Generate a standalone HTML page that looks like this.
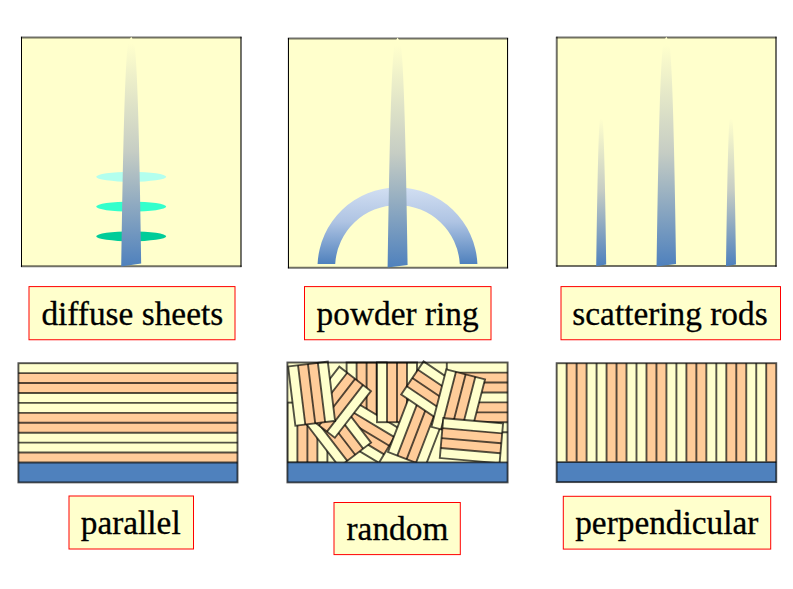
<!DOCTYPE html>
<html><head><meta charset="utf-8"><style>
html,body{margin:0;padding:0;background:#fff;width:793px;height:589px;overflow:hidden}
svg{display:block}
text{font-family:"Liberation Serif",serif}
</style></head><body>
<svg width="793" height="589" viewBox="0 0 793 589">
<defs><linearGradient id="g1" gradientUnits="userSpaceOnUse" x1="0" y1="37" x2="0" y2="266"><stop offset="0.03" stop-color="#FFFFCC"/><stop offset="0.5" stop-color="#C6CDC4"/><stop offset="1" stop-color="#4F81BD"/></linearGradient><linearGradient id="g2" gradientUnits="userSpaceOnUse" x1="0" y1="39" x2="0" y2="267.5"><stop offset="0.03" stop-color="#FFFFCC"/><stop offset="0.5" stop-color="#C6CDC4"/><stop offset="1" stop-color="#4F81BD"/></linearGradient><linearGradient id="g3" gradientUnits="userSpaceOnUse" x1="0" y1="38" x2="0" y2="266"><stop offset="0.03" stop-color="#FFFFCC"/><stop offset="0.5" stop-color="#C6CDC4"/><stop offset="1" stop-color="#4F81BD"/></linearGradient><linearGradient id="g3s" gradientUnits="userSpaceOnUse" x1="0" y1="114" x2="0" y2="266"><stop offset="0.03" stop-color="#FFFFCC"/><stop offset="0.5" stop-color="#C6CDC4"/><stop offset="1" stop-color="#4F81BD"/></linearGradient><linearGradient id="ga" gradientUnits="userSpaceOnUse" x1="0" y1="187" x2="0" y2="264"><stop offset="0" stop-color="#D2DFF2"/><stop offset="0.45" stop-color="#AFC4E3"/><stop offset="1" stop-color="#4F81BD"/></linearGradient><clipPath id="crand"><rect x="287.4" y="358" width="220.2" height="104.5"/></clipPath></defs>
<rect x="21.5" y="37.4" width="219.47" height="228.95" fill="#FFFFCC"/><line x1="21.5" y1="36.8" x2="21.5" y2="266.95000000000005" stroke="#000" stroke-width="1.05"/><line x1="20.9" y1="37.4" x2="241.57" y2="37.4" stroke="#000" stroke-opacity="0.56" stroke-width="2.0"/><line x1="240.97" y1="36.8" x2="240.97" y2="266.95000000000005" stroke="#000" stroke-opacity="0.56" stroke-width="2.0"/><line x1="20.9" y1="266.35" x2="241.57" y2="266.35" stroke="#000" stroke-opacity="0.56" stroke-width="2.0"/>
<rect x="288.45" y="38.5" width="219.10" height="229.18" fill="#FFFFCC"/><line x1="288.45" y1="37.9" x2="288.45" y2="268.28000000000003" stroke="#000" stroke-width="1.05"/><line x1="287.84999999999997" y1="38.5" x2="508.15000000000003" y2="38.5" stroke="#000" stroke-opacity="0.56" stroke-width="2.0"/><line x1="507.55" y1="37.9" x2="507.55" y2="268.28000000000003" stroke="#000" stroke-width="1.05"/><line x1="287.84999999999997" y1="267.68" x2="508.15000000000003" y2="267.68" stroke="#000" stroke-opacity="0.56" stroke-width="2.0"/>
<rect x="556.75" y="37.4" width="219.25" height="228.72" fill="#FFFFCC"/><line x1="556.75" y1="36.8" x2="556.75" y2="266.72" stroke="#000" stroke-opacity="0.56" stroke-width="2.0"/><line x1="556.15" y1="37.4" x2="776.6" y2="37.4" stroke="#000" stroke-opacity="0.56" stroke-width="2.0"/><line x1="776.0" y1="36.8" x2="776.0" y2="266.72" stroke="#000" stroke-opacity="0.56" stroke-width="2.0"/><line x1="556.15" y1="266.12" x2="776.6" y2="266.12" stroke="#000" stroke-opacity="0.56" stroke-width="2.0"/>
<ellipse cx="131.2" cy="176.8" rx="35" ry="5" fill="#B3FFEE"/>
<ellipse cx="131.2" cy="206.6" rx="35" ry="5" fill="#33FFCC"/>
<ellipse cx="131.2" cy="236.3" rx="35" ry="5" fill="#00CC99"/>
<path d="M131.20,36.70 L128.41,41.49 L127.70,46.28 L127.19,51.07 L126.80,55.86 L126.46,60.65 L126.17,65.44 L125.90,70.23 L125.66,75.02 L125.44,79.81 L125.24,84.60 L125.05,89.39 L124.87,94.18 L124.70,98.96 L124.54,103.75 L124.39,108.54 L124.24,113.33 L124.10,118.12 L123.97,122.91 L123.83,127.70 L123.71,132.49 L123.59,137.28 L123.47,142.07 L123.36,146.86 L123.24,151.65 L123.14,156.44 L123.03,161.23 L122.93,166.02 L122.83,170.81 L122.73,175.60 L122.64,180.39 L122.54,185.18 L122.45,189.97 L122.36,194.76 L122.28,199.55 L122.19,204.34 L122.11,209.12 L122.02,213.91 L121.94,218.70 L121.86,223.49 L121.78,228.28 L121.71,233.07 L121.63,237.86 L121.56,242.65 L121.48,247.44 L121.41,252.23 L121.34,257.02 L121.27,261.81 L121.20,266.60 L141.20,263.50 L141.13,261.81 L141.06,257.02 L140.99,252.23 L140.92,247.44 L140.84,242.65 L140.77,237.86 L140.69,233.07 L140.62,228.28 L140.54,223.49 L140.46,218.70 L140.38,213.91 L140.29,209.12 L140.21,204.34 L140.12,199.55 L140.04,194.76 L139.95,189.97 L139.86,185.18 L139.76,180.39 L139.67,175.60 L139.57,170.81 L139.47,166.02 L139.37,161.23 L139.26,156.44 L139.16,151.65 L139.04,146.86 L138.93,142.07 L138.81,137.28 L138.69,132.49 L138.57,127.70 L138.43,122.91 L138.30,118.12 L138.16,113.33 L138.01,108.54 L137.86,103.75 L137.70,98.96 L137.53,94.18 L137.35,89.39 L137.16,84.60 L136.96,79.81 L136.74,75.02 L136.50,70.23 L136.23,65.44 L135.94,60.65 L135.60,55.86 L135.21,51.07 L134.70,46.28 L133.99,41.49 L131.20,36.70Z" fill="url(#g1)"/>
<path d="M317.58,264 A80,80 0 0 1 477.42,264 L459.80,264 A62.4,62.4 0 0 0 335.20,264 Z" fill="url(#ga)"/>
<path d="M397.60,37.60 L394.81,42.39 L394.10,47.18 L393.59,51.98 L393.20,56.77 L392.86,61.56 L392.57,66.35 L392.30,71.14 L392.06,75.93 L391.84,80.73 L391.64,85.52 L391.45,90.31 L391.27,95.10 L391.10,99.89 L390.94,104.68 L390.79,109.48 L390.64,114.27 L390.50,119.06 L390.37,123.85 L390.23,128.64 L390.11,133.43 L389.99,138.23 L389.87,143.02 L389.76,147.81 L389.64,152.60 L389.54,157.39 L389.43,162.18 L389.33,166.98 L389.23,171.77 L389.13,176.56 L389.04,181.35 L388.94,186.14 L388.85,190.93 L388.76,195.73 L388.68,200.52 L388.59,205.31 L388.51,210.10 L388.42,214.89 L388.34,219.68 L388.26,224.48 L388.18,229.27 L388.11,234.06 L388.03,238.85 L387.96,243.64 L387.88,248.43 L387.81,253.23 L387.74,258.02 L387.67,262.81 L387.60,267.60 L407.60,265.00 L407.53,262.81 L407.46,258.02 L407.39,253.23 L407.32,248.43 L407.24,243.64 L407.17,238.85 L407.09,234.06 L407.02,229.27 L406.94,224.48 L406.86,219.68 L406.78,214.89 L406.69,210.10 L406.61,205.31 L406.52,200.52 L406.44,195.73 L406.35,190.93 L406.26,186.14 L406.16,181.35 L406.07,176.56 L405.97,171.77 L405.87,166.98 L405.77,162.18 L405.66,157.39 L405.56,152.60 L405.44,147.81 L405.33,143.02 L405.21,138.23 L405.09,133.43 L404.97,128.64 L404.83,123.85 L404.70,119.06 L404.56,114.27 L404.41,109.48 L404.26,104.68 L404.10,99.89 L403.93,95.10 L403.75,90.31 L403.56,85.52 L403.36,80.73 L403.14,75.93 L402.90,71.14 L402.63,66.35 L402.34,61.56 L402.00,56.77 L401.61,51.98 L401.10,47.18 L400.39,42.39 L397.60,37.60Z" fill="url(#g2)"/>
<path d="M601.20,112.00 L600.14,115.21 L599.80,118.42 L599.55,121.64 L599.35,124.85 L599.18,128.06 L599.02,131.28 L598.89,134.49 L598.76,137.70 L598.64,140.91 L598.53,144.12 L598.43,147.34 L598.33,150.55 L598.23,153.76 L598.15,156.97 L598.06,160.19 L597.98,163.40 L597.90,166.61 L597.82,169.82 L597.75,173.04 L597.68,176.25 L597.61,179.46 L597.54,182.68 L597.47,185.89 L597.41,189.10 L597.35,192.31 L597.29,195.52 L597.23,198.74 L597.17,201.95 L597.11,205.16 L597.06,208.38 L597.00,211.59 L596.95,214.80 L596.90,218.01 L596.84,221.22 L596.79,224.44 L596.74,227.65 L596.69,230.86 L596.65,234.07 L596.60,237.29 L596.55,240.50 L596.51,243.71 L596.46,246.92 L596.42,250.14 L596.37,253.35 L596.33,256.56 L596.28,259.77 L596.24,262.99 L596.20,266.20 L606.20,264.50 L606.16,262.99 L606.12,259.77 L606.07,256.56 L606.03,253.35 L605.98,250.14 L605.94,246.92 L605.89,243.71 L605.85,240.50 L605.80,237.29 L605.75,234.07 L605.71,230.86 L605.66,227.65 L605.61,224.44 L605.56,221.22 L605.50,218.01 L605.45,214.80 L605.40,211.59 L605.34,208.38 L605.29,205.16 L605.23,201.95 L605.17,198.74 L605.11,195.52 L605.05,192.31 L604.99,189.10 L604.93,185.89 L604.86,182.68 L604.79,179.46 L604.72,176.25 L604.65,173.04 L604.58,169.82 L604.50,166.61 L604.42,163.40 L604.34,160.19 L604.25,156.97 L604.17,153.76 L604.07,150.55 L603.97,147.34 L603.87,144.12 L603.76,140.91 L603.64,137.70 L603.51,134.49 L603.38,131.28 L603.22,128.06 L603.05,124.85 L602.85,121.64 L602.60,118.42 L602.26,115.21 L601.20,112.00Z" fill="url(#g3s)"/>
<path d="M731.00,112.00 L729.94,115.21 L729.60,118.42 L729.35,121.64 L729.15,124.85 L728.98,128.06 L728.82,131.28 L728.69,134.49 L728.56,137.70 L728.44,140.91 L728.33,144.12 L728.23,147.34 L728.13,150.55 L728.03,153.76 L727.95,156.97 L727.86,160.19 L727.78,163.40 L727.70,166.61 L727.62,169.82 L727.55,173.04 L727.48,176.25 L727.41,179.46 L727.34,182.68 L727.27,185.89 L727.21,189.10 L727.15,192.31 L727.09,195.52 L727.03,198.74 L726.97,201.95 L726.91,205.16 L726.86,208.38 L726.80,211.59 L726.75,214.80 L726.70,218.01 L726.64,221.22 L726.59,224.44 L726.54,227.65 L726.49,230.86 L726.45,234.07 L726.40,237.29 L726.35,240.50 L726.31,243.71 L726.26,246.92 L726.22,250.14 L726.17,253.35 L726.13,256.56 L726.08,259.77 L726.04,262.99 L726.00,266.20 L736.00,264.50 L735.96,262.99 L735.92,259.77 L735.87,256.56 L735.83,253.35 L735.78,250.14 L735.74,246.92 L735.69,243.71 L735.65,240.50 L735.60,237.29 L735.55,234.07 L735.51,230.86 L735.46,227.65 L735.41,224.44 L735.36,221.22 L735.30,218.01 L735.25,214.80 L735.20,211.59 L735.14,208.38 L735.09,205.16 L735.03,201.95 L734.97,198.74 L734.91,195.52 L734.85,192.31 L734.79,189.10 L734.73,185.89 L734.66,182.68 L734.59,179.46 L734.52,176.25 L734.45,173.04 L734.38,169.82 L734.30,166.61 L734.22,163.40 L734.14,160.19 L734.05,156.97 L733.97,153.76 L733.87,150.55 L733.77,147.34 L733.67,144.12 L733.56,140.91 L733.44,137.70 L733.31,134.49 L733.18,131.28 L733.02,128.06 L732.85,124.85 L732.65,121.64 L732.40,118.42 L732.06,115.21 L731.00,112.00Z" fill="url(#g3s)"/>
<path d="M666.30,36.70 L663.58,41.49 L662.88,46.27 L662.39,51.06 L662.01,55.84 L661.68,60.63 L661.39,65.41 L661.13,70.20 L660.90,74.98 L660.69,79.77 L660.49,84.55 L660.30,89.34 L660.13,94.12 L659.96,98.91 L659.81,103.70 L659.66,108.48 L659.51,113.27 L659.38,118.05 L659.25,122.84 L659.12,127.62 L659.00,132.41 L658.88,137.19 L658.76,141.98 L658.65,146.76 L658.54,151.55 L658.44,156.34 L658.34,161.12 L658.24,165.91 L658.14,170.69 L658.04,175.48 L657.95,180.26 L657.86,185.05 L657.77,189.83 L657.68,194.62 L657.60,199.40 L657.52,204.19 L657.43,208.97 L657.35,213.76 L657.27,218.55 L657.20,223.33 L657.12,228.12 L657.04,232.90 L656.97,237.69 L656.90,242.47 L656.83,247.26 L656.76,252.04 L656.69,256.83 L656.62,261.61 L656.55,266.40 L676.05,264.00 L675.98,261.61 L675.91,256.83 L675.84,252.04 L675.77,247.26 L675.70,242.47 L675.63,237.69 L675.56,232.90 L675.48,228.12 L675.40,223.33 L675.33,218.55 L675.25,213.76 L675.17,208.97 L675.08,204.19 L675.00,199.40 L674.92,194.62 L674.83,189.83 L674.74,185.05 L674.65,180.26 L674.56,175.48 L674.46,170.69 L674.36,165.91 L674.26,161.12 L674.16,156.34 L674.06,151.55 L673.95,146.76 L673.84,141.98 L673.72,137.19 L673.60,132.41 L673.48,127.62 L673.35,122.84 L673.22,118.05 L673.09,113.27 L672.94,108.48 L672.79,103.70 L672.64,98.91 L672.47,94.12 L672.30,89.34 L672.11,84.55 L671.91,79.77 L671.70,74.98 L671.47,70.20 L671.21,65.41 L670.92,60.63 L670.59,55.84 L670.21,51.06 L669.72,46.27 L669.02,41.49 L666.30,36.70Z" fill="url(#g3)"/>
<rect x="29.0" y="286.6" width="206.00" height="53.15" fill="#FFFFCC" stroke="#FF0000" stroke-width="1"/><text transform="translate(132.30,324.50) scale(0.972,1)" x="0" y="0" text-anchor="middle" font-family="Liberation Serif" font-size="34.3" fill="#000" stroke="#000" stroke-width="0.3">diffuse sheets</text>
<rect x="304.5" y="286.6" width="186.50" height="53.15" fill="#FFFFCC" stroke="#FF0000" stroke-width="1"/><text transform="translate(397.60,324.50) scale(0.972,1)" x="0" y="0" text-anchor="middle" font-family="Liberation Serif" font-size="34.3" fill="#000" stroke="#000" stroke-width="0.3">powder ring</text>
<rect x="561.0" y="286.6" width="219.50" height="53.15" fill="#FFFFCC" stroke="#FF0000" stroke-width="1"/><text transform="translate(670.00,324.60) scale(0.972,1)" x="0" y="0" text-anchor="middle" font-family="Liberation Serif" font-size="34.3" fill="#000" stroke="#000" stroke-width="0.3">scattering rods</text>
<rect x="69.0" y="496.0" width="124.50" height="53.00" fill="#FFFFCC" stroke="#FF0000" stroke-width="1"/><text transform="translate(130.70,534.10) scale(0.972,1)" x="0" y="0" text-anchor="middle" font-family="Liberation Serif" font-size="34.3" fill="#000" stroke="#000" stroke-width="0.3">parallel</text>
<rect x="334.0" y="502.5" width="126.30" height="52.10" fill="#FFFFCC" stroke="#FF0000" stroke-width="1"/><text transform="translate(397.40,540.20) scale(0.972,1)" x="0" y="0" text-anchor="middle" font-family="Liberation Serif" font-size="34.3" fill="#000" stroke="#000" stroke-width="0.3">random</text>
<rect x="563.3" y="496.3" width="207.40" height="52.80" fill="#FFFFCC" stroke="#FF0000" stroke-width="1"/><text transform="translate(666.80,534.10) scale(0.972,1)" x="0" y="0" text-anchor="middle" font-family="Liberation Serif" font-size="34.3" fill="#000" stroke="#000" stroke-width="0.3">perpendicular</text>
<rect x="18.4" y="363.20" width="219.10" height="9.93" fill="#FFFFCC"/>
<rect x="18.4" y="373.13" width="219.10" height="9.93" fill="#FFCC99"/>
<rect x="18.4" y="383.06" width="219.10" height="9.93" fill="#FFCC99"/>
<rect x="18.4" y="392.99" width="219.10" height="9.93" fill="#FFFFCC"/>
<rect x="18.4" y="402.92" width="219.10" height="9.93" fill="#FFFFCC"/>
<rect x="18.4" y="412.85" width="219.10" height="9.93" fill="#FFCC99"/>
<rect x="18.4" y="422.78" width="219.10" height="9.93" fill="#FFCC99"/>
<rect x="18.4" y="432.71" width="219.10" height="9.93" fill="#FFFFCC"/>
<rect x="18.4" y="442.64" width="219.10" height="9.93" fill="#FFFFCC"/>
<rect x="18.4" y="452.57" width="219.10" height="9.93" fill="#FFCC99"/>
<rect x="18.4" y="462.5" width="219.10" height="19.9" fill="#4F81BD"/>
<path d="M18.4,373.13H237.5M18.4,383.06H237.5M18.4,392.99H237.5M18.4,402.92H237.5M18.4,412.85H237.5M18.4,422.78H237.5M18.4,432.71H237.5M18.4,442.64H237.5M18.4,452.57H237.5M18.4,462.5H237.5" fill="none" stroke="#000" stroke-opacity="0.68" stroke-width="1.9"/>
<rect x="18.4" y="363.2" width="219.10" height="119.20" fill="none" stroke="#000" stroke-opacity="0.68" stroke-width="1.9"/>
<rect x="556.65" y="363.2" width="9.98" height="98.9" fill="#FFFFCC"/>
<rect x="566.63" y="363.2" width="9.98" height="98.9" fill="#FFCC99"/>
<rect x="576.61" y="363.2" width="9.98" height="98.9" fill="#FFCC99"/>
<rect x="586.59" y="363.2" width="9.98" height="98.9" fill="#FFFFCC"/>
<rect x="596.57" y="363.2" width="9.98" height="98.9" fill="#FFFFCC"/>
<rect x="606.55" y="363.2" width="9.98" height="98.9" fill="#FFCC99"/>
<rect x="616.53" y="363.2" width="9.98" height="98.9" fill="#FFCC99"/>
<rect x="626.51" y="363.2" width="9.98" height="98.9" fill="#FFFFCC"/>
<rect x="636.49" y="363.2" width="9.98" height="98.9" fill="#FFFFCC"/>
<rect x="646.47" y="363.2" width="9.98" height="98.9" fill="#FFCC99"/>
<rect x="656.45" y="363.2" width="9.98" height="98.9" fill="#FFCC99"/>
<rect x="666.43" y="363.2" width="9.98" height="98.9" fill="#FFFFCC"/>
<rect x="676.41" y="363.2" width="9.98" height="98.9" fill="#FFFFCC"/>
<rect x="686.39" y="363.2" width="9.98" height="98.9" fill="#FFCC99"/>
<rect x="696.37" y="363.2" width="9.98" height="98.9" fill="#FFCC99"/>
<rect x="706.35" y="363.2" width="9.98" height="98.9" fill="#FFFFCC"/>
<rect x="716.33" y="363.2" width="9.98" height="98.9" fill="#FFFFCC"/>
<rect x="726.31" y="363.2" width="9.98" height="98.9" fill="#FFCC99"/>
<rect x="736.29" y="363.2" width="9.98" height="98.9" fill="#FFCC99"/>
<rect x="746.27" y="363.2" width="9.98" height="98.9" fill="#FFFFCC"/>
<rect x="756.25" y="363.2" width="9.98" height="98.9" fill="#FFFFCC"/>
<rect x="766.23" y="363.2" width="9.98" height="98.9" fill="#FFCC99"/>
<rect x="556.65" y="462.1" width="219.6" height="20" fill="#4F81BD"/>
<path d="M566.63,363.2V462.1M576.61,363.2V462.1M586.59,363.2V462.1M596.57,363.2V462.1M606.55,363.2V462.1M616.53,363.2V462.1M626.51,363.2V462.1M636.49,363.2V462.1M646.47,363.2V462.1M656.45,363.2V462.1M666.43,363.2V462.1M676.41,363.2V462.1M686.39,363.2V462.1M696.37,363.2V462.1M706.35,363.2V462.1M716.33,363.2V462.1M726.31,363.2V462.1M736.29,363.2V462.1M746.27,363.2V462.1M756.25,363.2V462.1M766.23,363.2V462.1M556.65,462.1H776.25" fill="none" stroke="#000" stroke-opacity="0.68" stroke-width="1.9"/>
<rect x="556.65" y="363.2" width="219.6" height="118.9" fill="none" stroke="#000" stroke-opacity="0.68" stroke-width="1.9"/>
<g clip-path="url(#crand)"><rect x="287.4" y="362.5" width="220.2" height="100" fill="#FFFFCC"/><g transform="translate(287.40,402.60) rotate(0.00)"><rect x="0.00" y="0" width="10.00" height="60.00" fill="#FFFFCC"/><rect x="10.00" y="0" width="10.00" height="60.00" fill="#FFCC99"/><rect x="20.00" y="0" width="10.00" height="60.00" fill="#FFCC99"/><rect x="30.00" y="0" width="10.00" height="60.00" fill="#FFFFCC"/><path d="M10.00,0V60.00M20.00,0V60.00M30.00,0V60.00" fill="none" stroke="#000" stroke-opacity="0.68" stroke-width="1.9"/><rect x="0" y="0" width="40.00" height="60.00" fill="none" stroke="#000" stroke-opacity="0.68" stroke-width="1.9"/></g><g transform="translate(346.60,362.50) rotate(0.00)"><rect x="0.00" y="0" width="10.00" height="59.50" fill="#FFFFCC"/><rect x="10.00" y="0" width="10.00" height="59.50" fill="#FFCC99"/><rect x="20.00" y="0" width="10.00" height="59.50" fill="#FFCC99"/><rect x="30.00" y="0" width="10.00" height="59.50" fill="#FFFFCC"/><path d="M10.00,0V59.50M20.00,0V59.50M30.00,0V59.50" fill="none" stroke="#000" stroke-opacity="0.68" stroke-width="1.9"/><rect x="0" y="0" width="40.00" height="59.50" fill="none" stroke="#000" stroke-opacity="0.68" stroke-width="1.9"/></g><g transform="translate(327.50,432.00) rotate(-59.00)"><rect x="0.00" y="0" width="10.00" height="60.00" fill="#FFFFCC"/><rect x="10.00" y="0" width="10.00" height="60.00" fill="#FFCC99"/><rect x="20.00" y="0" width="10.00" height="60.00" fill="#FFCC99"/><rect x="30.00" y="0" width="10.00" height="60.00" fill="#FFFFCC"/><path d="M10.00,0V60.00M20.00,0V60.00M30.00,0V60.00" fill="none" stroke="#000" stroke-opacity="0.68" stroke-width="1.9"/><rect x="0" y="0" width="40.00" height="60.00" fill="none" stroke="#000" stroke-opacity="0.68" stroke-width="1.9"/></g><g transform="translate(377.00,362.50) rotate(0.00)"><rect x="0.00" y="0" width="10.00" height="59.70" fill="#FFFFCC"/><rect x="10.00" y="0" width="10.00" height="59.70" fill="#FFCC99"/><rect x="20.00" y="0" width="10.00" height="59.70" fill="#FFCC99"/><rect x="30.00" y="0" width="10.00" height="59.70" fill="#FFFFCC"/><path d="M10.00,0V59.70M20.00,0V59.70M30.00,0V59.70" fill="none" stroke="#000" stroke-opacity="0.68" stroke-width="1.9"/><rect x="0" y="0" width="40.00" height="59.70" fill="none" stroke="#000" stroke-opacity="0.68" stroke-width="1.9"/></g><rect x="446.8" y="362.70" width="70" height="9.93" fill="#FFFFCC"/><rect x="446.8" y="372.63" width="70" height="9.93" fill="#FFCC99"/><rect x="446.8" y="382.56" width="70" height="9.93" fill="#FFCC99"/><rect x="446.8" y="392.49" width="70" height="9.93" fill="#FFFFCC"/><rect x="446.8" y="402.42" width="70" height="9.93" fill="#FFCC99"/><rect x="446.8" y="412.35" width="70" height="9.93" fill="#FFCC99"/><rect x="446.8" y="422.28" width="70" height="9.93" fill="#FFFFCC"/><path d="M446.8,372.63H520M446.8,382.56H520M446.8,392.49H520M446.8,402.42H520M446.8,412.35H520M446.8,422.28H520M446.8,432.21H520M446.8,362.7V432.2" fill="none" stroke="#000" stroke-opacity="0.68" stroke-width="1.9"/><g transform="translate(303.10,419.70) rotate(-37.50)"><rect x="0.00" y="0" width="10.00" height="59.50" fill="#FFFFCC"/><rect x="10.00" y="0" width="10.00" height="59.50" fill="#FFCC99"/><rect x="20.00" y="0" width="10.00" height="59.50" fill="#FFCC99"/><rect x="30.00" y="0" width="10.00" height="59.50" fill="#FFFFCC"/><path d="M10.00,0V59.50M20.00,0V59.50M30.00,0V59.50" fill="none" stroke="#000" stroke-opacity="0.68" stroke-width="1.9"/><rect x="0" y="0" width="40.00" height="59.50" fill="none" stroke="#000" stroke-opacity="0.68" stroke-width="1.9"/></g><g transform="translate(339.30,366.60) rotate(37.70)"><rect x="0.00" y="0" width="10.00" height="59.00" fill="#FFFFCC"/><rect x="10.00" y="0" width="10.00" height="59.00" fill="#FFCC99"/><rect x="20.00" y="0" width="10.00" height="59.00" fill="#FFCC99"/><rect x="30.00" y="0" width="10.00" height="59.00" fill="#FFFFCC"/><path d="M10.00,0V59.00M20.00,0V59.00M30.00,0V59.00" fill="none" stroke="#000" stroke-opacity="0.68" stroke-width="1.9"/><rect x="0" y="0" width="40.00" height="59.00" fill="none" stroke="#000" stroke-opacity="0.68" stroke-width="1.9"/></g><g transform="translate(288.10,366.50) rotate(-7.00)"><rect x="0.00" y="0" width="10.00" height="59.70" fill="#FFFFCC"/><rect x="10.00" y="0" width="10.00" height="59.70" fill="#FFCC99"/><rect x="20.00" y="0" width="10.00" height="59.70" fill="#FFCC99"/><rect x="30.00" y="0" width="10.00" height="59.70" fill="#FFFFCC"/><path d="M10.00,0V59.70M20.00,0V59.70M30.00,0V59.70" fill="none" stroke="#000" stroke-opacity="0.68" stroke-width="1.9"/><rect x="0" y="0" width="40.00" height="59.70" fill="none" stroke="#000" stroke-opacity="0.68" stroke-width="1.9"/></g><g transform="translate(409.30,396.50) rotate(21.00)"><rect x="0.00" y="0" width="10.00" height="59.50" fill="#FFFFCC"/><rect x="10.00" y="0" width="10.00" height="59.50" fill="#FFCC99"/><rect x="20.00" y="0" width="10.00" height="59.50" fill="#FFCC99"/><rect x="30.00" y="0" width="10.00" height="59.50" fill="#FFFFCC"/><path d="M10.00,0V59.50M20.00,0V59.50M30.00,0V59.50" fill="none" stroke="#000" stroke-opacity="0.68" stroke-width="1.9"/><rect x="0" y="0" width="40.00" height="59.50" fill="none" stroke="#000" stroke-opacity="0.68" stroke-width="1.9"/></g><g transform="translate(401.20,394.60) rotate(-56.00)"><rect x="0.00" y="0" width="10.00" height="59.50" fill="#FFFFCC"/><rect x="10.00" y="0" width="10.00" height="59.50" fill="#FFCC99"/><rect x="20.00" y="0" width="10.00" height="59.50" fill="#FFCC99"/><rect x="30.00" y="0" width="10.00" height="59.50" fill="#FFFFCC"/><path d="M10.00,0V59.50M20.00,0V59.50M30.00,0V59.50" fill="none" stroke="#000" stroke-opacity="0.68" stroke-width="1.9"/><rect x="0" y="0" width="40.00" height="59.50" fill="none" stroke="#000" stroke-opacity="0.68" stroke-width="1.9"/></g><g transform="translate(446.30,369.30) rotate(14.50)"><rect x="0.00" y="0" width="10.00" height="59.50" fill="#FFFFCC"/><rect x="10.00" y="0" width="10.00" height="59.50" fill="#FFCC99"/><rect x="20.00" y="0" width="10.00" height="59.50" fill="#FFCC99"/><rect x="30.00" y="0" width="10.00" height="59.50" fill="#FFFFCC"/><path d="M10.00,0V59.50M20.00,0V59.50M30.00,0V59.50" fill="none" stroke="#000" stroke-opacity="0.68" stroke-width="1.9"/><rect x="0" y="0" width="40.00" height="59.50" fill="none" stroke="#000" stroke-opacity="0.68" stroke-width="1.9"/></g><g transform="translate(439.80,458.00) rotate(-85.00)"><rect x="0.00" y="0" width="10.00" height="60.00" fill="#FFFFCC"/><rect x="10.00" y="0" width="10.00" height="60.00" fill="#FFCC99"/><rect x="20.00" y="0" width="10.00" height="60.00" fill="#FFCC99"/><rect x="30.00" y="0" width="10.00" height="60.00" fill="#FFFFCC"/><path d="M10.00,0V60.00M20.00,0V60.00M30.00,0V60.00" fill="none" stroke="#000" stroke-opacity="0.68" stroke-width="1.9"/><rect x="0" y="0" width="40.00" height="60.00" fill="none" stroke="#000" stroke-opacity="0.68" stroke-width="1.9"/></g></g>
<rect x="287.4" y="462.4" width="220.2" height="20" fill="#4F81BD"/>
<path d="M287.4,462.4H507.6" fill="none" stroke="#000" stroke-opacity="0.68" stroke-width="1.9"/>
<rect x="287.4" y="362.5" width="220.2" height="119.9" fill="none" stroke="#000" stroke-opacity="0.68" stroke-width="1.9"/>
</svg>
</body></html>
